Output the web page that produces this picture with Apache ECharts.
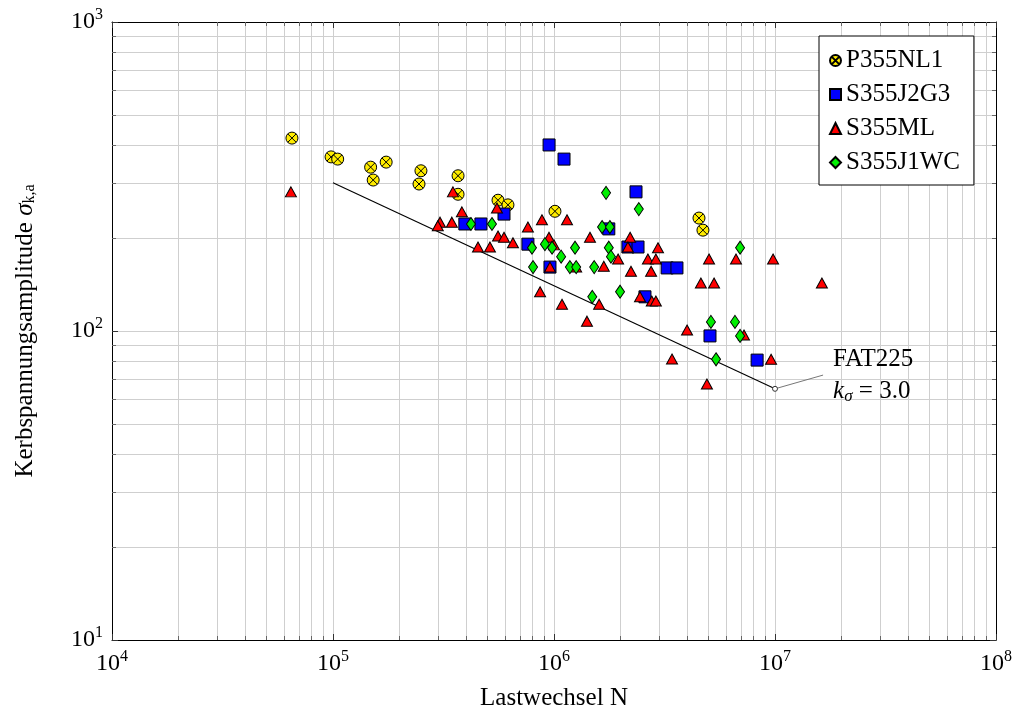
<!DOCTYPE html>
<html>
<head>
<meta charset="utf-8">
<title>Wöhlerdiagramm</title>
<script src="https://cdn.jsdelivr.net/npm/echarts@6/dist/echarts.min.js"></script>
<style>
  html, body { margin: 0; padding: 0; background: #fff; }
  #chart { width: 1016px; height: 717px; }
</style>
</head>
<body>
<div id="chart"></div>
<script>
// Messpunkte: [Lastwechsel N, Kerbspannungsamplitude]
const p355nl1 = [
  [65200, 421], [98000, 366], [105000, 360], [148000, 339], [152000, 308],
  [174000, 352], [250000, 330], [245000, 299], [368000, 318], [368000, 277],
  [558000, 265], [619000, 256], [1010000, 244], [4530000, 232], [4720000, 212]
]
const s355j2g3 = [
  [950000, 400], [1110000, 360], [2350000, 282], [594000, 239], [395000, 222],
  [467000, 222], [762000, 191], [959000, 161], [1770000, 214], [2160000, 187],
  [2400000, 187], [3250000, 160], [3600000, 160], [2580000, 129], [5080000, 96.4],
  [8300000, 80.5]
]
const s355ml = [
  [64500, 282], [349000, 282], [383000, 243], [305000, 225], [298000, 219],
  [345000, 225], [453000, 187], [513000, 187], [552000, 250], [558000, 203],
  [594000, 201], [652000, 193], [762000, 217], [882000, 229], [1145000, 229],
  [949000, 201], [1000000, 190], [1455000, 201], [2210000, 201], [2160000, 187],
  [2660000, 171], [2890000, 171], [1950000, 171], [2230000, 156], [2750000, 156],
  [1680000, 162], [959000, 161], [1260000, 161], [2955000, 186], [865000, 134],
  [1087000, 122], [1600000, 122], [1410000, 107.6], [2450000, 129], [2770000, 125],
  [2890000, 125], [4000000, 100.7], [3420000, 81.2], [7240000, 97], [9600000, 81],
  [5030000, 171], [6660000, 171], [9800000, 171], [4620000, 143], [5300000, 143],
  [16300000, 143], [4920000, 67.4]
]
const s355j1wc = [
  [421000, 222], [524000, 222], [1720000, 280], [2420000, 248], [1650000, 217],
  [1790000, 217], [795000, 186], [910000, 191], [980000, 186], [1245000, 186],
  [1077000, 174], [1770000, 186], [1810000, 174], [804000, 161], [1180000, 161],
  [1260000, 161], [1520000, 161], [1990000, 134], [1490000, 129], [6950000, 186],
  [5130000, 107], [6590000, 107], [6950000, 96.4], [5410000, 81]
]
// FAT225-Linie (k = 3) und Beschriftungspunkt
const fatLine = [[1e5, 302], [1e7, 65]]
const fatLabelAt = [1.65e7, 72]

const xRange = [1e4, 1e8]
const yRange = [10, 1000]

const font = '"Liberation Serif", "DejaVu Serif", serif'
const circleX = 'path://M10,0A10,10,0,1,1,-10,0A10,10,0,1,1,10,0ZM7.07,7.07L-7.07,-7.07M-7.07,7.07L7.07,-7.07'

function pow10(v) {
  let e = Math.round(Math.log10(v))
  return '{b|10}{s|' + e + '}'
}
const powRich = {
  b: {fontFamily: font, fontSize: 24, color: '#000'},
  s: {fontFamily: font, fontSize: 16, color: '#000', padding: [0, 0, 14, 0]}
}

function axis(range, pos, main) {
  return {
    type: 'log',
    logBase: 10,
    min: range[0],
    max: range[1],
    position: pos,
    axisLine: {show: true, lineStyle: {color: '#000', width: 1}},
    axisTick: {show: true, inside: true, length: 6, lineStyle: {color: '#333'}},
    minorTick: {show: true, splitNumber: 9, length: 4, lineStyle: {color: '#666'}},
    splitLine: {show: main, lineStyle: {color: '#cfcfcf', width: 1}},
    minorSplitLine: {show: main, lineStyle: {color: '#cfcfcf', width: 1}},
    axisLabel: {show: main, formatter: pow10, rich: powRich, margin: 9},
    z: 1
  }
}

let chart = echarts.init(document.getElementById('chart'))
let xMain = axis(xRange, 'bottom', true)
xMain.name = 'Lastwechsel N'
xMain.nameLocation = 'middle'
xMain.nameGap = 46
xMain.nameTextStyle = {fontFamily: font, fontSize: 25, color: '#000'}

let yMain = axis(yRange, 'left', true)
yMain.name = '{n|Kerbspannungsamplitude }{g|σ}{sub|k,a}'
yMain.nameLocation = 'middle'
yMain.nameRotate = 90
yMain.nameGap = 74
yMain.nameTextStyle = {
  rich: {
    n: {fontFamily: font, fontSize: 25, color: '#000'},
    g: {fontFamily: font, fontSize: 25, fontStyle: 'italic', color: '#000'},
    sub: {fontFamily: font, fontSize: 16, color: '#000', padding: [10, 0, 0, 0]}
  }
}

const marker = {borderColor: '#000', borderWidth: 1, opacity: 1}

chart.setOption({
  animation: false,
  backgroundColor: '#fff',
  grid: {left: 112, right: 20, top: 22, bottom: 77},
  xAxis: [xMain, axis(xRange, 'top', false)],
  yAxis: [yMain, axis(yRange, 'right', false)],
  legend: {
    orient: 'vertical',
    left: 819,
    top: 36,
    padding: [12, 14, 10, 10],
    itemGap: 9,
    itemWidth: 11,
    itemHeight: 11,
    backgroundColor: '#fff',
    borderColor: '#000',
    borderWidth: 1,
    textStyle: {fontFamily: font, fontSize: 25, color: '#000'},
    data: ['P355NL1', 'S355J2G3', 'S355ML', 'S355J1WC']
  },
  series: [
    {
      name: 'FAT225',
      type: 'line',
      data: fatLine,
      symbol: 'none',
      lineStyle: {color: '#000', width: 1.2},
      silent: true,
      z: 2
    },
    {
      name: 'P355NL1',
      type: 'scatter',
      data: p355nl1,
      symbol: circleX,
      symbolSize: 12,
      itemStyle: Object.assign({color: '#ffec00'}, marker),
      z: 3
    },
    {
      name: 'S355J2G3',
      type: 'scatter',
      data: s355j2g3,
      symbol: 'rect',
      symbolSize: 12,
      itemStyle: Object.assign({color: '#0000ff'}, marker),
      z: 3
    },
    {
      name: 'S355ML',
      type: 'scatter',
      data: s355ml,
      symbol: 'triangle',
      symbolSize: [11, 10],
      itemStyle: Object.assign({color: '#ff0000'}, marker),
      z: 3
    },
    {
      name: 'S355J1WC',
      type: 'scatter',
      data: s355j1wc,
      symbol: 'diamond',
      symbolSize: [9, 13],
      itemStyle: Object.assign({color: '#00ee00'}, marker),
      z: 3
    },
    {
      // Verbindungslinie zur Beschriftung
      type: 'line',
      data: [
        {value: fatLine[1], symbol: 'circle', symbolSize: 5},
        {value: fatLabelAt, symbol: 'none'}
      ],
      showSymbol: true,
      lineStyle: {color: '#777', width: 1},
      itemStyle: {color: '#fff', borderColor: '#333', borderWidth: 1},
      silent: true,
      z: 4
    },
    {
      // Beschriftung der FAT-Linie
      type: 'scatter',
      data: [fatLabelAt],
      symbolSize: 0,
      silent: true,
      itemStyle: {opacity: 1},
      z: 5,
      label: {
        show: true,
        position: 'right',
        distance: 10,
        color: '#000',
        opacity: 1,
        formatter: '{n|FAT225}\n{i|k}{sub|σ}{n| = 3.0}',
        rich: {
          n: {fontFamily: font, fontSize: 25, color: '#000', lineHeight: 32},
          i: {fontFamily: font, fontSize: 25, fontStyle: 'italic', color: '#000', lineHeight: 32},
          sub: {fontFamily: font, fontSize: 17, fontStyle: 'italic', color: '#000', padding: [10, 0, 0, 0]}
        }
      }
    }
  ]
})
</script>
</body>
</html>
